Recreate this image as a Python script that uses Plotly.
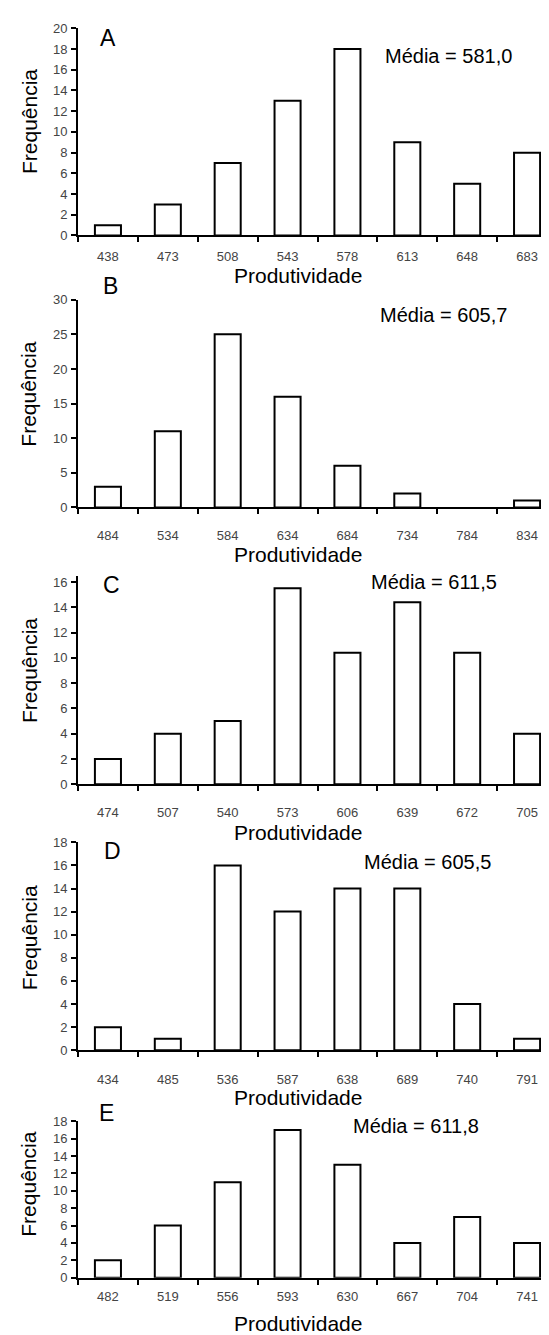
import plotly.graph_objects as go

# ---- data ----
cats_A = ["438", "473", "508", "543", "578", "613", "648", "683"]
freq_A = [1, 3, 7, 13, 18, 9, 5, 8]
cats_B = ["484", "534", "584", "634", "684", "734", "784", "834"]
freq_B = [3, 11, 25, 16, 6, 2, 0, 1]
cats_C = ["474", "507", "540", "573", "606", "639", "672", "705"]
freq_C = [2, 4, 5, 15.5, 10.4, 14.4, 10.4, 4]
cats_D = ["434", "485", "536", "587", "638", "689", "740", "791"]
freq_D = [2, 1, 16, 12, 14, 14, 4, 1]
cats_E = ["482", "519", "556", "593", "630", "667", "704", "741"]
freq_E = [2, 6, 11, 17, 13, 4, 7, 4]

letters = ["A", "B", "C", "D", "E"]
medias = ["Média = 581,0", "Média = 605,7", "Média = 611,5", "Média = 605,5", "Média = 611,8"]

W, H = 549, 1335
FONT = "Liberation Sans, Arial, sans-serif"

panels = [
    dict(cats=cats_A, freq=freq_A, top=13.5, bot=223, ymax=20, dtick=2, tstand=8, ttl=40, fq=-10,
         let=(100, 23), med=(440, 41)),
    dict(cats=cats_B, freq=freq_B, top=288, bot=498, ymax=30, dtick=5, tstand=15, ttl=48, fq=-9,
         let=(102, 274), med=(435, 303)),
    dict(cats=cats_C, freq=freq_C, top=567, bot=778, ymax=16.5, dtick=2, tstand=15, ttl=49, fq=-9,
         let=(103, 576), med=(426, 573)),
    dict(cats=cats_D, freq=freq_D, top=836.7, bot=1047, ymax=18, dtick=2, tstand=16, ttl=48, fq=-8,
         let=(104, 846), med=(419, 857)),
    dict(cats=cats_E, freq=freq_E, top=1119, bot=1277, ymax=18, dtick=2, tstand=6, ttl=46, fq=-15,
         let=(98, 1110), med=(408, 1124)),
]

fig = go.Figure()
x0 = 70 / W
annotations = []
layout = {}
for i, p in enumerate(panels):
    n = "" if i == 0 else str(i + 1)
    fig.add_trace(go.Bar(
        x=p["cats"], y=p["freq"], xaxis="x" + n, yaxis="y" + n,
        marker=dict(color="white",
                    line=dict(color="black", width=[2 if v > 0 else 0 for v in p["freq"]])),
        showlegend=False, hoverinfo="x+y",
    ))
    ydom = [1 - p["bot"] / H, 1 - p["top"] / H]
    layout["xaxis" + n] = dict(
        domain=[x0, 1], anchor="y" + n, type="category",
        range=[-0.5, 7.5], showline=True, linecolor="black", linewidth=2,
        ticks="outside", ticklen=5, tickwidth=1.5, tickcolor="black",
        tickson="boundaries", showgrid=False, zeroline=False,
        tickfont=dict(family=FONT, size=13, color="#444444"),
        ticklabelstandoff=p["tstand"], fixedrange=True,
    )
    layout["yaxis" + n] = dict(
        domain=ydom, anchor="x" + n, range=[0, p["ymax"]],
        tickmode="linear", tick0=0, dtick=p["dtick"],
        showline=True, linecolor="black", linewidth=2,
        ticks="outside", ticklen=5, tickwidth=1.5, tickcolor="black",
        showgrid=False, zeroline=False,
        tickfont=dict(family=FONT, size=13, color="#444444"),
        ticklabelstandoff=1, fixedrange=True,
    )
    annotations.append(dict(
        text="Frequência", textangle=-90, xref="paper", yref="paper",
        x=21 / W, y=1 - ((p["top"] + p["bot"]) / 2 + p["fq"]) / H, showarrow=False,
        xanchor="center", yanchor="middle",
        font=dict(family=FONT, size=21, color="black"),
    ))
    annotations.append(dict(
        text="Produtividade", xref="paper", yref="paper",
        x=290 / W, y=1 - (p["bot"] + p["ttl"]) / H, showarrow=False,
        xanchor="center", yanchor="middle",
        font=dict(family=FONT, size=21, color="black"),
    ))
    annotations.append(dict(
        text=letters[i], xref="paper", yref="paper",
        x=p["let"][0] / W, y=1 - p["let"][1] / H, showarrow=False,
        xanchor="center", yanchor="middle",
        font=dict(family=FONT, size=23, color="black"),
    ))
    annotations.append(dict(
        text=medias[i], xref="paper", yref="paper",
        x=p["med"][0] / W, y=1 - p["med"][1] / H, showarrow=False,
        xanchor="center", yanchor="middle",
        font=dict(family=FONT, size=20, color="black"),
    ))

fig.update_layout(
    width=W, height=H, margin=dict(l=0, r=0, t=0, b=0),
    paper_bgcolor="white", plot_bgcolor="white",
    bargap=0.565, annotations=annotations, **layout,
)
fig.write_html("out.html")
